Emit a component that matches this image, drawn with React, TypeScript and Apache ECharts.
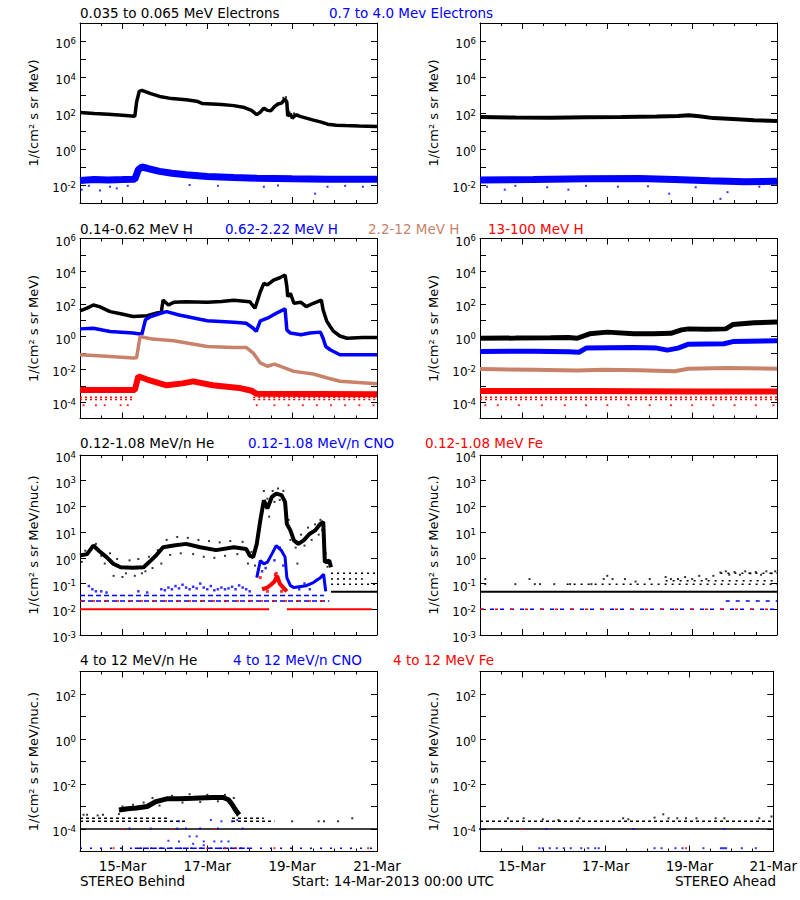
import React, { useEffect, useRef } from "react";
import * as echarts from "echarts";

type P = [number, number]; // [hours since 14-Mar-2013 00:00 UTC, flux]
type Seg = [number, number, number]; // [start hour, end hour, flux level]

// ---------------- axes ----------------
const HOURS_MAX = 168;
const DAY_TICKS = [24, 72, 120, 168];
const DAY_LABELS = ["15-Mar", "17-Mar", "19-Mar", "21-Mar"];

const ROW_EXP_MIN = [-3, -5, -3, -5];
const ROW_EXP_MAX = [7, 6, 4, 3];
const ROW_EXP_LABELS = [
  [6, 4, 2, 0, -2],
  [6, 4, 2, 0, -2, -4],
  [4, 3, 2, 1, 0, -1, -2, -3],
  [2, 0, -2, -4],
];
const ROW_UNITS = [
  "1/(cm² s sr MeV)",
  "1/(cm² s sr MeV)",
  "1/(cm² s sr MeV/nuc.)",
  "1/(cm² s sr MeV/nuc.)",
];

const C_BLACK = "#000000";
const C_BLUE = "#0000ff";
const C_BROWN = "#c8826a";
const C_RED = "#ff0000";

const TITLE_TEXTS = [
  ["0.035 to 0.065 MeV Electrons", "0.7 to 4.0 Mev Electrons"],
  ["0.14-0.62 MeV H", "0.62-2.22 MeV H", "2.2-12 MeV H", "13-100 MeV H"],
  ["0.12-1.08 MeV/n He", "0.12-1.08 MeV/n CNO", "0.12-1.08 MeV Fe"],
  ["4 to 12 MeV/n He", "4 to 12 MeV/n CNO", "4 to 12 MeV Fe"],
];
const TITLE_COLORS = [
  [C_BLACK, C_BLUE],
  [C_BLACK, C_BLUE, C_BROWN, C_RED],
  [C_BLACK, C_BLUE, C_RED],
  [C_BLACK, C_BLUE, C_RED],
];
const FOOTER_LEFT = "STEREO Behind";
const FOOTER_MID = "Start: 14-Mar-2013 00:00 UTC";
const FOOTER_RIGHT = "STEREO Ahead";

// ---------------- Row 1: electrons ----------------
const eLowBehind: P[] = [[0,107],[8,95],[16,85],[24,74],[31,65],[32,400],[33.5,1600],[35,1800],[40,1200],[45,830],[52,630],[60,550],[66,450],[69,340],[72,330],[80,295],[87,257],[93,200],[97,140],[100,81],[102,112],[104,186],[106,140],[108,135],[110,224],[112,316],[114,355],[116,600],[117,400],[117.5,70],[119,89],[120,52],[122,79],[125,63],[128,52],[132,40],[136,32],[140,24],[145,21],[150,20],[158,19],[168,18]];
const eLowBehindDots: P[] = [[115,700],[116.5,760],[117.8,150],[118.5,110],[121,95],[123,85]];
const eHighBehind: P[] = [[0,0.018],[8,0.02],[16,0.019],[24,0.02],[31,0.021],[33,0.07],[35,0.1],[38,0.085],[45,0.057],[52,0.045],[60,0.037],[72,0.03],[87,0.026],[100,0.024],[120,0.022],[140,0.021],[168,0.021]];
const eHighBehindDots: P[] = [[1,0.0055],[5,0.009],[11.3,0.005],[17,0.008],[20.8,0.0065],[27,0.009],[62,0.01],[78,0.009],[104,0.008],[112,0.0095],[133,0.0033],[140,0.008],[150,0.009],[160,0.008]];

const eLowAhead: P[] = [[0,60],[20,56],[40,55],[60,58],[80,60],[100,63],[112,68],[118,75],[124,66],[132,52],[143,46],[155,40],[168,36]];
const eHighAhead: P[] = [[0,0.019],[30,0.02],[60,0.022],[90,0.023],[110,0.02],[130,0.017],[150,0.015],[168,0.016]];
const eHighAheadDots: P[] = [[4,0.008],[14,0.0055],[20,0.009],[38,0.0075],[50,0.0055],[60,0.009],[78,0.008],[95,0.0085],[107,0.0033],[122,0.0075],[136,0.0017],[140,0.004],[158,0.008]];

// ---------------- Row 2: protons ----------------
const hLowBehind: P[] = [[0,38],[4,56],[7.5,87],[11,69],[17,34],[23,25],[30,17],[38,19],[43,27],[46,32],[47,174],[50,87],[53,126],[60,138],[72,126],[80,141],[87,170],[96,138],[99,55],[102,560],[104,1820],[106,1450],[109.5,2900],[113,4000],[116,5900],[117,1150],[117.5,280],[119,450],[121,110],[125,126],[128,69],[132,110],[136.5,174],[137.5,44],[139.5,9.3],[141.5,4.2],[143.5,2.1],[147,1.1],[151,0.8],[160,0.9],[168,0.9]];
const hMidBehind: P[] = [[0,3.0],[7.5,3.3],[17,2.1],[30,1.66],[35,1.4],[37,10.7],[40,17],[47,30],[49,34],[56,21],[72,9.3],[87,7.6],[94,6.6],[98,3.3],[99.7,2.1],[102,9.3],[106,13.5],[111,27],[116,50],[117,2.6],[119,1.66],[125,1.3],[130,1.66],[136,1.9],[137.5,0.81],[139,0.25],[141.5,0.16],[147,0.079],[168,0.079]];
const hHighBehind: P[] = [[0,0.079],[15,0.063],[30,0.05],[32,0.052],[34,1.02],[41,0.71],[53,0.56],[72,0.25],[87,0.22],[94,0.22],[98,0.1],[102,0.025],[106,0.0155],[110,0.021],[115,0.0135],[121,0.0076],[132,0.0052],[140,0.003],[147,0.0019],[168,0.00135]];
const hVHighBehind: P[] = [[0,5.5e-4],[31,5.5e-4],[33,3.8e-3],[38,2.4e-3],[49,1.07e-3],[58,1.4e-3],[64,1.86e-3],[75,1.07e-3],[90,7.4e-4],[97,5e-4],[100,3.2e-4],[168,3.0e-4]];
const hVHighBehindFloors: Seg[] = [[0,31,2e-4],[0,31,1.45e-4],[98,168,2e-4],[98,168,1.45e-4]];
const hVHighBehindDots: P[] = [[2,6.5e-5],[9,6.5e-5],[14,6.5e-5],[23,6.5e-5],[27,6.5e-5],[100,6.5e-5],[110,6.5e-5],[118,6.5e-5],[126,6.5e-5],[134,6.5e-5],[142,6.5e-5],[150,6.5e-5],[158,6.5e-5],[166,6.5e-5]];

const hLowAhead: P[] = [[0,0.8],[20,0.82],[40,0.85],[50,0.88],[55,0.8],[62,1.5],[72,1.9],[87,1.5],[98,1.5],[108,1.6],[114,2.6],[118,3.0],[128,2.8],[139,3.0],[143,5.5],[155,7.2],[168,7.8]];
const hMidAhead: P[] = [[0,0.126],[30,0.13],[50,0.118],[56,0.112],[60,0.2],[87,0.22],[100,0.2],[106,0.15],[112,0.2],[118,0.35],[138,0.37],[143,0.5],[168,0.56]];
const hHighAhead: P[] = [[0,0.0105],[30,0.0095],[55,0.0085],[70,0.0095],[90,0.0088],[110,0.0078],[118,0.011],[140,0.012],[168,0.011]];
const hVHighAhead: P[] = [[0,4.8e-4],[60,4.8e-4],[120,4.5e-4],[168,4.4e-4]];
const hVHighAheadFloors: Seg[] = [[0,168,2e-4],[0,168,1.45e-4]];
const hVHighAheadDots: P[] = [[3,6.5e-5],[10,6.5e-5],[22,6.5e-5],[35,6.5e-5],[48,6.5e-5],[60,6.5e-5],[72,6.5e-5],[84,6.5e-5],[96,6.5e-5],[108,6.5e-5],[120,6.5e-5],[132,6.5e-5],[144,6.5e-5],[156,6.5e-5],[166,6.5e-5]];

// ---------------- Row 3: 0.12-1.08 MeV/n heavy ions ----------------
const heBehind: P[] = [[0,1.23],[4,1.4],[7.5,3.0],[11,1.8],[15,1.07],[19,0.58],[23,0.43],[30,0.41],[36,0.43],[40,0.78],[43,1.23],[47,2.6],[53,3.0],[60,3.5],[68,2.6],[77,2.0],[87,2.6],[94,2.2],[96,1.23],[98,1.07],[100,3.5],[102,29],[104,174],[106,83],[108.5,234],[111,316],[114,275],[116,150],[117,21],[119,11.7],[121,4.8],[123.5,3.5],[126.5,4.8],[130,8.7],[133,11.7],[136,21],[137.6,25],[138.5,0.68],[141,0.78],[142,0.43]];
const heBehindDots: P[] = [[1,0.7],[3,1.9],[6,2.2],[9,3.5],[12,1.2],[14,0.6],[17,1.5],[19,0.2],[21,0.9],[24,0.18],[26,0.25],[28,0.8],[31,0.2],[33,0.9],[35,0.25],[37,0.3],[39,1.1],[41,0.4],[44,2.0],[46,0.6],[49,5.0],[51,1.3],[55,6.5],[57,1.5],[61,6.0],[64,1.4],[67,5.0],[70,1.1],[73,4.5],[76,1.0],[79,4.0],[82,1.2],[85,4.5],[89,1.4],[92,4.2],[95,0.6],[97,1.7],[99,0.5],[101,8],[103,60],[104,400],[106,200],[107,40],[109,400],[110,150],[112,500],[113,180],[115,400],[116,60],[118,30],[119,5],[122,2.5],[123,0.6],[125,8],[127,3],[129,15],[131,5],[133,20],[135,8],[136,30],[137,12],[139,1.5],[140,0.45]];
const heBehindFloorsDashed: Seg[] = [[142,168,0.25],[142,160,0.15],[142,168,0.095]];
const heBehindFloorsSolid: Seg[] = [[142,168,0.048]];
const cnoBehindEvent: P[] = [[100,0.17],[102,0.78],[104,0.58],[106,0.68],[108.5,1.4],[111,3.0],[114,1.9],[116,1.07],[117,0.17],[119,0.083],[121,0.07],[128,0.083],[132,0.11],[136,0.17],[137.8,0.23],[139,0.05]];
const cnoBehindDots: P[] = [[5,0.08],[7,0.06],[9,0.05],[12,0.05],[15,0.045],[33,0.05],[38,0.045],[46,0.06],[48,0.055],[50,0.07],[52,0.06],[54,0.08],[56,0.065],[58,0.09],[60,0.07],[62,0.06],[64,0.075],[66,0.065],[68,0.1],[70,0.07],[72,0.06],[74,0.08],[76,0.055],[78,0.06],[80,0.07],[82,0.06],[84,0.065],[86,0.075],[88,0.06],[90,0.085],[92,0.07],[94,0.06],[96,0.05],[103,0.3],[105,0.4],[110,0.8],[113,2.5],[115,0.5],[124,0.06],[127,0.1],[130,0.06],[134,0.14]];
const cnoBehindFloors: Seg[] = [[0,138,0.034],[0,141,0.021]];
const feBehindEvent: P[] = [[103,0.06],[106,0.07],[108,0.09],[110,0.12],[111.5,0.2],[113,0.1],[115,0.07],[117,0.05]];
const feBehindDots: P[] = [[102,0.17],[110.5,0.22],[111,0.25],[106,0.05],[114,0.05]];
const feBehindFloorsDashed: Seg[] = [[0,138,0.021]];
const feBehindFloorsSolid: Seg[] = [[0,107,0.0101],[117,165,0.0101]];

const heAheadDots: P[] = [[3,0.15],[3,0.095],[20,0.095],[28,0.15],[31,0.095],[34,0.095],[42,0.095],[51,0.095],[63,0.095],[70,0.15],[72,0.2],[75,0.15],[82,0.15],[88,0.12],[96,0.15],[105,0.18],[108,0.15],[112,0.15],[116,0.18],[120,0.15],[124,0.2],[128,0.15],[132,0.2],[136,0.27],[139,0.3],[141,0.22],[144,0.28],[147,0.22],[150,0.3],[153,0.25],[156,0.28],[159,0.22],[162,0.3],[165,0.25],[167,0.3]];
const heAheadFloorsDashed: Seg[] = [[49,168,0.095],[105,168,0.13],[136,168,0.25]];
const heAheadFloorsSolid: Seg[] = [[0,168,0.048]];
const cnoAheadFloors: Seg[] = [[139,168,0.021],[0,168,0.0101]];
const feAheadFloors: Seg[] = [[0,168,0.0101]];

// ---------------- Row 4: 4-12 MeV/n heavy ions ----------------
const he4Behind: P[] = [[22,7e-4],[27,8e-4],[32,8.5e-4],[38,1e-3],[43,1.66e-3],[49,2.2e-3],[56,2.2e-3],[64,2.3e-3],[75,2.5e-3],[81,2.5e-3],[84,2.0e-3],[86,1.26e-3],[88,7e-4],[90,4.3e-4]];
const he4BehindDots: P[] = [[2,4.3e-4],[4,4.3e-4],[10,4e-4],[13,4.3e-4],[22,4.6e-4],[24,1e-3],[30,1.2e-3],[36,1.5e-3],[41,2.4e-3],[45,1.1e-3],[52,3e-3],[58,1.5e-3],[62,3.5e-3],[68,1.6e-3],[72,3.3e-3],[78,1.7e-3],[82,3.3e-3],[87,2.4e-3],[89,4e-4],[120,2.2e-4],[135,2.2e-4],[138,2.2e-4],[146,2.2e-4],[154,3e-4]];
const he4BehindFloorsDashed: Seg[] = [[0,50,3e-4],[0,60,2.2e-4],[86,104,3e-4],[86,110,2.2e-4]];
const he4BehindFloorsSolid: Seg[] = [[0,168,1e-4]];
const cno4BehindFloors: Seg[] = [[0,168,1.4e-5]];
const cno4BehindDenseFloors: Seg[] = [[31,96,1.4e-5]];
const cno4BehindDots: P[] = [[56,2.2e-4],[74,2.5e-4],[80,2.2e-4],[86,2.2e-4],[89,2.5e-4],[50,3e-5],[56,2.8e-5],[62,4.7e-5],[66,4.7e-5],[70,2.8e-5],[76,2.8e-5],[80,2.8e-5],[84,2.8e-5],[64,2.2e-5],[70,1.9e-5],[28,1.05e-4],[40,1.05e-4],[55,1.05e-4],[60,1.05e-4],[68,1.05e-4],[78,1.05e-4],[92,1.05e-4]];
const fe4BehindDots: P[] = [[19,1.4e-5],[72,1.4e-5],[82,1.4e-5],[88,1.4e-5],[110,1.4e-5],[163,1.4e-5],[52,1e-4],[24,1e-4],[76,1e-4]];

const he4AheadDots: P[] = [[16,3e-4],[25,3e-4],[36,2.7e-4],[45,2.5e-4],[57,3e-4],[82,3e-4],[85,2.7e-4],[100,3.2e-4],[105,4.5e-4],[108,3e-4],[113,3e-4],[118,3e-4],[124,3e-4],[135,3e-4],[140,3e-4],[160,3e-4],[167,3.6e-4]];
const he4AheadFloorsDashed: Seg[] = [[0,168,2.2e-4]];
const he4AheadFloorsSolid: Seg[] = [[0,168,1e-4]];
const cno4AheadDots: P[] = [[34,1.4e-5],[36,1.4e-5],[40,1.4e-5],[44,1.4e-5],[48,1.4e-5],[52,1.4e-5],[58,1.4e-5],[62,1.4e-5],[66,1.4e-5],[68,1.4e-5],[100,1.4e-5],[104,1.4e-5],[112,1.4e-5],[116,1.4e-5],[128,1.4e-5],[138,1.4e-5],[139,1.4e-5],[140,1.4e-5],[141,1.4e-5],[150,1.4e-5],[158,1.4e-5],[0,1e-4],[38,1e-4],[88,1e-4],[140,1e-4]];
const fe4AheadDots: P[] = [[118,1.4e-5],[24,1e-4]];

// ---------------- layout ----------------
const COL_LEFT = [80, 480];
const ROW_TOP = [23, 238.5, 455, 671.5];
const PANEL_W = 297;
const PANEL_H = 180;
const TITLE_X = [
  [80, 329],
  [80, 225, 368, 488],
  [80, 248, 425],
  [80, 233, 393],
];
const TITLE_Y = [13, 229, 443, 660];
const FONT = '"DejaVu Sans", sans-serif';

const lg = (v: number) => Math.log10(v);

function band(g: number, data: P[], color: string, width: number, z = 3) {
  return {
    type: "line", xAxisIndex: 4 * g, yAxisIndex: 2 * g,
    data: data.map(([h, v]) => [h, lg(v)]),
    symbol: "none", silent: true, z, clip: true,
    lineStyle: { color, width, cap: "butt", join: "bevel" },
  };
}
function dots(g: number, data: P[], color: string, size = 2, z = 4) {
  return {
    type: "scatter", xAxisIndex: 4 * g, yAxisIndex: 2 * g,
    data: data.map(([h, v]) => [h, lg(v)]),
    symbol: "rect", symbolSize: size, silent: true, z, clip: true,
    itemStyle: { color },
  };
}
function levels(g: number, segs: Seg[], color: string, width: number, dash: number[] | "solid", z = 2) {
  return segs.map(([a, b, v]) => ({
    type: "line", xAxisIndex: 4 * g, yAxisIndex: 2 * g,
    data: [[a, lg(v)], [b, lg(v)]],
    symbol: "none", silent: true, z, clip: true,
    lineStyle: { color, width, type: dash },
  }));
}

function buildOption() {
  const grid: any[] = [];
  const xAxis: any[] = [];
  const yAxis: any[] = [];
  const axisLine = { show: true, onZero: false, lineStyle: { color: "#000", width: 1 } };
  const noLine = { show: false, onZero: false };
  const tickStyle = { color: "#000", width: 1 };
  for (let r = 0; r < 4; r++) {
    for (let c = 0; c < 2; c++) {
      const g = r * 2 + c;
      grid.push({ left: COL_LEFT[c], top: ROW_TOP[r], width: PANEL_W, height: PANEL_H });
      const xBase = { type: "value", gridIndex: g, min: 0, max: HOURS_MAX, splitLine: { show: false } };
      xAxis.push({
        ...xBase, position: "bottom", interval: 12, axisLine,
        axisTick: { show: true, inside: true, length: 3, lineStyle: tickStyle },
        axisLabel: {
          show: r === 3, margin: 7, color: "#000", fontSize: 13.5, fontFamily: FONT,
          showMinLabel: false, showMaxLabel: true,
          formatter: (v: number) => {
            const i = DAY_TICKS.indexOf(Math.round(v));
            return i >= 0 ? DAY_LABELS[i] : "";
          },
        },
      });
      xAxis.push({
        ...xBase, position: "bottom", axisLine: noLine,
        axisTick: { show: true, inside: true, length: 6, customValues: DAY_TICKS, lineStyle: tickStyle },
        axisLabel: { show: false },
      });
      xAxis.push({
        ...xBase, position: "top", interval: 12, axisLine,
        axisTick: { show: true, inside: true, length: 3, lineStyle: tickStyle },
        axisLabel: { show: false },
      });
      xAxis.push({
        ...xBase, position: "top", axisLine: noLine,
        axisTick: { show: true, inside: true, length: 6, customValues: DAY_TICKS, lineStyle: tickStyle },
        axisLabel: { show: false },
      });
      const yBase = {
        type: "value", gridIndex: g, min: ROW_EXP_MIN[r], max: ROW_EXP_MAX[r], interval: 1,
        splitLine: { show: false }, axisLine,
        axisTick: { show: true, inside: true, length: 6, lineStyle: tickStyle },
      };
      const labs = ROW_EXP_LABELS[r];
      yAxis.push({
        ...yBase, position: "left",
        axisLabel: {
          show: true, margin: 4, color: "#000",
          formatter: (v: number) => {
            const e = Math.round(v);
            return labs.indexOf(e) >= 0 ? `{b|10}{s|${e}}` : "";
          },
          rich: {
            b: { fontSize: 12, fontFamily: FONT, color: "#000", padding: [6, 0, 0, 0] },
            s: { fontSize: 8.5, fontFamily: FONT, color: "#000", verticalAlign: "top", padding: [4, 0, 0, 0] },
          },
        },
      });
      yAxis.push({ ...yBase, position: "right", axisLabel: { show: false } });
    }
  }

  const series: any[] = [
    // row 1
    band(0, eLowBehind, C_BLACK, 3.5),
    dots(0, eLowBehindDots, C_BLACK, 2),
    band(0, eHighBehind, C_BLUE, 7),
    dots(0, eHighBehindDots, C_BLUE, 2),
    band(1, eLowAhead, C_BLACK, 4),
    band(1, eHighAhead, C_BLUE, 7),
    dots(1, eHighAheadDots, C_BLUE, 2),
    // row 2
    band(2, hLowBehind, C_BLACK, 3.5),
    band(2, hMidBehind, C_BLUE, 3.5),
    band(2, hHighBehind, C_BROWN, 3.5),
    band(2, hVHighBehind, C_RED, 6),
    ...levels(2, hVHighBehindFloors, C_RED, 1.5, [2, 3]),
    dots(2, hVHighBehindDots, C_RED, 2),
    band(3, hLowAhead, C_BLACK, 5),
    band(3, hMidAhead, C_BLUE, 5),
    band(3, hHighAhead, C_BROWN, 4),
    band(3, hVHighAhead, C_RED, 6),
    ...levels(3, hVHighAheadFloors, C_RED, 1.5, [2, 3]),
    dots(3, hVHighAheadDots, C_RED, 2),
    // row 3
    band(4, heBehind, C_BLACK, 4),
    dots(4, heBehindDots, C_BLACK, 2),
    ...levels(4, heBehindFloorsDashed, C_BLACK, 1.5, [2, 4]),
    ...levels(4, heBehindFloorsSolid, C_BLACK, 2, "solid"),
    ...levels(4, cnoBehindFloors, C_BLUE, 1.5, [5, 3]),
    band(4, cnoBehindEvent, C_BLUE, 3),
    dots(4, cnoBehindDots, C_BLUE, 2.5),
    ...levels(4, feBehindFloorsSolid, C_RED, 2, "solid"),
    ...levels(4, feBehindFloorsDashed, C_RED, 1.5, [3, 9]),
    band(4, feBehindEvent, C_RED, 4, 5),
    dots(4, feBehindDots, C_RED, 3, 5),
    dots(5, heAheadDots, C_BLACK, 2),
    ...levels(5, heAheadFloorsDashed, C_BLACK, 1.5, [2, 5]),
    ...levels(5, heAheadFloorsSolid, C_BLACK, 2, "solid"),
    ...levels(5, cnoAheadFloors, C_BLUE, 1.5, [4, 6]),
    ...levels(5, feAheadFloors, C_RED, 1.5, [3, 12]),
    // row 4
    band(6, he4Behind, C_BLACK, 5),
    dots(6, he4BehindDots, C_BLACK, 2),
    ...levels(6, he4BehindFloorsDashed, C_BLACK, 1.5, [3, 3]),
    ...levels(6, he4BehindFloorsSolid, C_BLACK, 1.5, "solid"),
    ...levels(6, cno4BehindFloors, C_BLUE, 1.5, [2, 8]),
    ...levels(6, cno4BehindDenseFloors, C_BLUE, 1.5, [6, 2]),
    dots(6, cno4BehindDots, C_BLUE, 2),
    dots(6, fe4BehindDots, C_RED, 2, 5),
    dots(7, he4AheadDots, C_BLACK, 2),
    ...levels(7, he4AheadFloorsDashed, C_BLACK, 1.5, [3, 3]),
    ...levels(7, he4AheadFloorsSolid, C_BLACK, 1.5, "solid"),
    dots(7, cno4AheadDots, C_BLUE, 2),
    dots(7, fe4AheadDots, C_RED, 2, 5),
  ];

  const graphic: any[] = [];
  const txt = (text: string, x: number, y: number, fill: string, align = "left") => ({
    type: "text", x, y, silent: true,
    style: { text, fill, font: `13.5px ${FONT}`, align, verticalAlign: "middle" },
  });
  TITLE_TEXTS.forEach((row, r) =>
    row.forEach((t, i) => graphic.push(txt(t, TITLE_X[r][i], TITLE_Y[r], TITLE_COLORS[r][i])))
  );
  for (let r = 0; r < 4; r++) {
    for (let c = 0; c < 2; c++) {
      graphic.push({
        type: "text", x: COL_LEFT[c] - 47, y: ROW_TOP[r] + PANEL_H / 2, rotation: Math.PI / 2, silent: true,
        style: { text: ROW_UNITS[r], fill: "#000", font: `13px ${FONT}`, align: "center", verticalAlign: "middle" },
      });
    }
  }
  graphic.push(txt(FOOTER_LEFT, 80, 881, "#000"));
  graphic.push(txt(FOOTER_MID, 292, 881, "#000"));
  graphic.push(txt(FOOTER_RIGHT, 776, 881, "#000", "right"));

  return {
    animation: false,
    backgroundColor: "#ffffff",
    grid, xAxis, yAxis, series, graphic,
  };
}

export default function App() {
  const ref = useRef<HTMLDivElement>(null);
  useEffect(() => {
    if (!ref.current) return;
    const chart = echarts.init(ref.current, undefined, { renderer: "svg" });
    chart.setOption(buildOption() as any);
    return () => chart.dispose();
  }, []);
  return (
    <div
      ref={ref}
      style={{ position: "absolute", left: 0, top: 0, width: 800, height: 900, background: "#fff" }}
    />
  );
}
